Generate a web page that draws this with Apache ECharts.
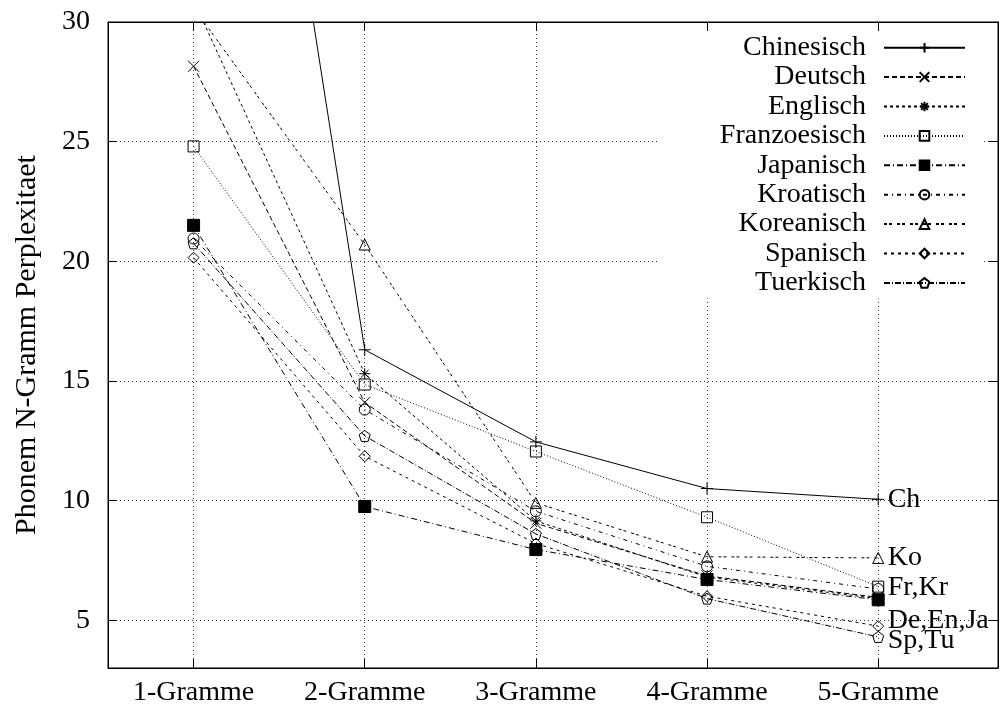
<!DOCTYPE html>
<html>
<head>
<meta charset="utf-8">
<script src="https://cdn.jsdelivr.net/npm/echarts@6/dist/echarts.min.js"></script>
<style>
html, body { margin: 0; padding: 0; background: #fff; }
#chart { width: 1000px; height: 713px; }
</style>
</head>
<body>
<div id="chart"></div>
<script>
// categories and values
const grams = ['1-Gramme', '2-Gramme', '3-Gramme', '4-Gramme', '5-Gramme']
const chinesisch = [62.0, 16.3, 12.45, 10.5, 10.05]
const deutsch = [28.15, 14.1, 9.05, 6.85, 5.95]
const englisch = [30.9, 15.3, 9.15, 6.8, 5.9]
const franzoesisch = [24.8, 14.85, 12.05, 9.3, 6.4]
const japanisch = [21.5, 9.75, 7.95, 6.7, 5.85]
const kroatisch = [20.95, 13.8, 9.55, 7.25, 6.3]
const koreanisch = [30.6, 20.7, 9.9, 7.65, 7.6]
const spanisch = [20.15, 11.85, 8.2, 6.0, 4.75]
const tuerkisch = [20.75, 12.7, 8.6, 5.9, 4.3]
const yTicks = [5, 10, 15, 20, 25, 30]
const xTicks = [1, 2, 3, 4, 5]
// short names written at the right end of the lines
const endLabels = ['Ch', 'Ko', 'Fr,Kr', 'De,En,Ja', 'Sp,Tu']
const endLabelValues = [10.05, 7.6, 6.35, 5.0, 4.15]

const FONT = '"Liberation Serif", "DejaVu Serif", serif'

const P = {
  plus: 'path://M0,5L10,5M5,0L5,10',
  cross: 'path://M0,0L10,10M10,0L0,10',
  star: 'path://M0,5L10,5M5,0L5,10M1.5,1.5L8.5,8.5M8.5,1.5L1.5,8.5',
  pent: 'path://M5,0L9.76,3.45L7.94,9.05L2.06,9.05L0.24,3.45Z'
}

const lines = [
  { name: 'Chinesisch', data: chinesisch, symbol: P.plus, size: 12, dash: 'solid' },
  { name: 'Deutsch', data: deutsch, symbol: P.cross, size: 11, dash: [5, 3] },
  { name: 'Englisch', data: englisch, symbol: P.star, size: 11, dash: [3, 3] },
  { name: 'Franzoesisch', data: franzoesisch, symbol: 'rect', size: 11, dash: [1, 2] },
  { name: 'Japanisch', data: japanisch, symbol: 'rect', size: 12, dash: [6, 3, 1, 3], fill: '#000' },
  { name: 'Kroatisch', data: kroatisch, symbol: 'circle', size: 11, dash: [4, 4, 1, 4] },
  { name: 'Koreanisch', data: koreanisch, symbol: 'triangle', size: 11, dash: [3, 2, 3, 5] },
  { name: 'Spanisch', data: spanisch, symbol: 'diamond', size: 11, dash: [3, 4] },
  { name: 'Tuerkisch', data: tuerkisch, symbol: P.pent, size: 11, dash: [6, 2, 1, 2] }
]

const series = lines.map(l => ({
  name: l.name,
  type: 'line',
  data: l.data.map((v, i) => [xTicks[i], v]),
  symbol: l.symbol,
  symbolSize: l.size,
  showAllSymbol: true,
  clip: true,
  lineStyle: { color: '#000', width: 1, type: l.dash },
  itemStyle: { color: l.fill || 'none', borderColor: '#000', borderWidth: 1 },
  emphasis: { disabled: true },
  z: 3
}))

series.push({
  name: 'labels',
  type: 'scatter',
  symbolSize: 1,
  itemStyle: { color: 'none', opacity: 1 },
  data: endLabels.map((t, i) => ({ name: t, value: [xTicks[4], endLabelValues[i]] })),
  label: {
    show: true, position: 'right', distance: 9,
    formatter: p => p.name,
    fontFamily: FONT, fontSize: 28, color: '#000', opacity: 1, textBorderWidth: 0
  },
  labelLayout: { hideOverlap: false },
  emphasis: { disabled: true },
  silent: true,
  z: 5
})

const gridLine = { show: true, lineStyle: { color: '#333', width: 1, type: [1, 3] } }

const chart = echarts.init(document.getElementById('chart'))
chart.setOption({
  animation: false,
  backgroundColor: '#fff',
  grid: { left: 108, right: 2, top: 22, bottom: 45, show: true, borderColor: '#000', borderWidth: 1 },
  legend: {
    data: lines.map(l => l.name),
    orient: 'vertical',
    right: 17,
    top: 32,
    align: 'right',
    itemWidth: 81,
    itemHeight: 12,
    itemGap: 0,
    padding: [1, 17, 1, 62],
    backgroundColor: '#fff',
    selectedMode: false,
    textStyle: { fontFamily: FONT, fontSize: 28, lineHeight: 29.4, color: '#000', padding: [0, 13, 0, 0] },
    z: 4
  },
  xAxis: [{
    type: 'value',
    min: 0.5,
    max: 5.7,
    axisLine: { show: true, lineStyle: { color: '#000' } },
    axisTick: { show: true, inside: true, length: 9, customValues: xTicks, lineStyle: { color: '#000' } },
    axisLabel: {
      customValues: xTicks, formatter: v => grams[v - 1] || '',
      fontFamily: FONT, fontSize: 28, color: '#000', margin: 11
    },
    splitLine: gridLine
  }, {
    type: 'value',
    position: 'top',
    min: 0.5,
    max: 5.7,
    axisLine: { show: true, lineStyle: { color: '#000' } },
    axisTick: { show: true, inside: true, length: 9, customValues: xTicks, lineStyle: { color: '#000' } },
    axisLabel: { show: false },
    splitLine: { show: false }
  }],
  yAxis: [{
    type: 'value',
    min: 3,
    max: 30,
    name: 'Phonem N-Gramm Perplexitaet',
    nameLocation: 'middle',
    nameGap: 66,
    nameTextStyle: { fontFamily: FONT, fontSize: 30, color: '#000' },
    axisLine: { show: true, lineStyle: { color: '#000' } },
    axisTick: { show: true, inside: true, length: 9, customValues: yTicks, lineStyle: { color: '#000' } },
    axisLabel: { customValues: yTicks, fontFamily: FONT, fontSize: 28, color: '#000', margin: 18 },
    splitLine: gridLine
  }, {
    type: 'value',
    position: 'right',
    min: 3,
    max: 30,
    axisLine: { show: true, lineStyle: { color: '#000' } },
    axisTick: { show: true, inside: true, length: 9, customValues: yTicks, lineStyle: { color: '#000' } },
    axisLabel: { show: false },
    splitLine: { show: false }
  }],
  series: series
})
</script>
</body>
</html>
